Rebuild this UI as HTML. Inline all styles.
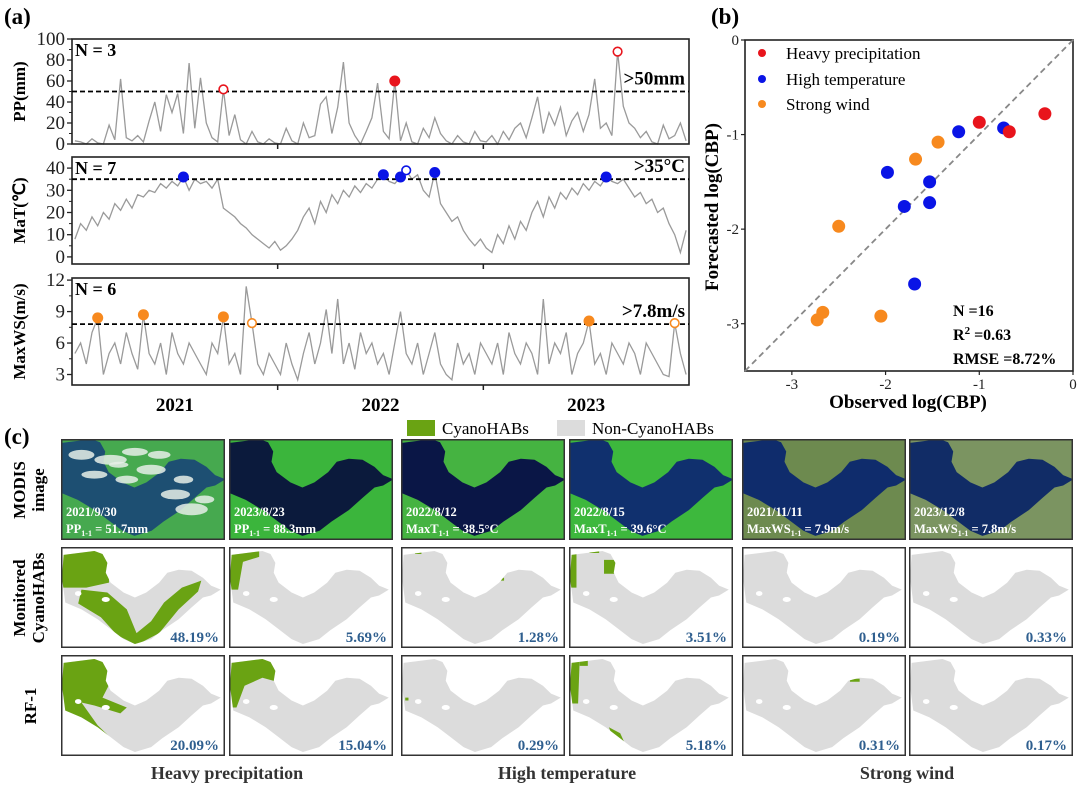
<!DOCTYPE html>
<html><head><meta charset="utf-8"><style>
body{margin:0;background:#fff}
svg{display:block}
text{font-family:"Liberation Serif",serif}
.b{font-weight:bold}
</style></head><body>
<svg id="fig" width="1080" height="792" viewBox="0 0 1080 792" xmlns="http://www.w3.org/2000/svg">
<defs>
<clipPath id="lakeclip" clipPathUnits="userSpaceOnUse"><path d="M1,7 L20,3 L25,6 L28,15 L27,25 L30,35 L38,45 L45,50 L52,45 L60,35 L65,25 L72,22 L80,23 L87,30 L92,38 L98,42 L92,48 L87,50 L80,60 L72,72 L62,83 L55,92 L45,97 L38,92 L30,82 L22,72 L12,62 L2,55 L0,30 Z"/></clipPath>
</defs>
<g id="pa"></g>
<g id="pb"></g>
<g id="pc"></g>
</svg>
<script>
// ---------- Panel (a) data (36 samples per year, 2021-2023) ----------
const years = ["2021","2022","2023"];
const ppValues = [3,2,0,5,1,0,18,4,62,6,3,8,2,22,40,12,47,30,48,10,77,15,63,20,6,2,52,8,28,4,0,12,2,0,5,1,
 0,15,3,0,20,6,8,38,45,10,35,78,20,8,0,12,25,58,12,5,60,3,20,2,0,15,6,25,10,3,0,8,2,0,12,3,
 2,8,0,12,4,15,20,6,25,45,10,30,18,35,8,22,30,12,28,62,15,20,8,88,36,20,15,6,12,2,0,18,5,8,20,3];
const matValues = [8,15,12,18,14,20,17,24,21,26,22,28,27,30,29,33,31,34,32,36,30,35,33,34,31,35,22,20,18,15,13,10,8,6,4,7,
 3,5,8,12,18,22,15,25,20,28,24,30,27,32,29,33,31,35,37,34,33,36,39,35,37,30,27,38,24,20,16,18,12,8,5,8,
 4,2,10,6,14,8,16,12,20,25,18,27,22,29,26,31,28,33,30,34,32,36,34,33,35,31,27,29,24,26,20,22,15,10,2,12];
const wsValues = [5,6,4,7,8.4,3,5,6,4,7,5,3.5,8.7,5,4,6,3,7,5,4,6,5,4,3,6,5,8.5,4,5,3,11.4,7.9,4,3,5,4,
 3,6,4,2.5,5,7,4,6,9.2,5,10.2,4,6,3.5,7,5,6,4,5,3,6,9,5,4,6,3,5,7,4,3,2.5,6,4,5,3,6,
 5,4,6,3,7,5,4,6,5,3,10.2,4,6,5,7,3,5,6,8.1,4,5,3,6,5,4,6,5,3,6,5,4,3,2.8,7.9,5,3];
const ppEventIdx = [26,56,95];   const ppEventOpen = [1,0,1];
const matEventIdx = [19,54,57,58,63,93]; const matEventOpen = [0,0,0,1,0,0];
const wsEventIdx = [4,12,26,31,90,105]; const wsEventOpen = [0,0,0,1,0,1];
const thresholds = [50,35,7.8];
const thresholdLabels = [">50mm",">35\u00b0C",">7.8m/s"];
const nLabels = ["N = 3","N = 7","N = 6"];

// ---------- Panel (b) data ----------
const hpObs = [-1.0,-0.68,-0.3];  const hpFc = [-0.87,-0.97,-0.78];
const htObs = [-1.22,-0.74,-1.98,-1.53,-1.8,-1.53,-1.69]; const htFc = [-0.97,-0.93,-1.4,-1.5,-1.76,-1.72,-2.58];
const swObs = [-1.44,-1.68,-2.5,-2.73,-2.67,-2.05]; const swFc = [-1.08,-1.26,-1.97,-2.96,-2.88,-2.92];
const bTicks = [-3,-2,-1,0];

// ---------- Panel (c) data ----------
const monitoredPct = ["48.19%","5.69%","1.28%","3.51%","0.19%","0.33%"];
const rfPct = ["20.09%","15.04%","0.29%","5.18%","0.31%","0.17%"];
const modisDates = ["2021/9/30","2023/8/23","2022/8/12","2022/8/15","2021/11/11","2023/12/8"];
const modisVar = ["PP","PP","MaxT","MaxT","MaxWS","MaxWS"];
const modisVal = ["= 51.7mm","= 88.3mm","= 38.5\u00b0C","= 39.6\u00b0C","= 7.9m/s","= 7.8m/s"];

const NS="http://www.w3.org/2000/svg";
function el(tag,attrs,parent,txt){const e=document.createElementNS(NS,tag);for(const k in attrs)e.setAttribute(k,attrs[k]);if(txt!==undefined)e.textContent=txt;parent.appendChild(e);return e;}

// ================= Panel A =================
const pa=document.getElementById('pa');
const AX0=72,AX1=689;
const N=ppValues.length;
const xA=i=>AX0+(i+0.5)/N*(AX1-AX0);
const lab=el('text',{x:4,y:24,'font-size':23,class:'b'},pa,'(a)');


const subplots=[
 {vals:ppValues,top:39,bot:144,min:0,max:100,ticks:[0,20,40,60,80,100],yl:"PP(mm)",idx:ppEventIdx,open:ppEventOpen,col:"#e8141c",name:"precipitation"},
 {vals:matValues,top:157,bot:264,min:-3.2,max:45,ticks:[0,10,20,30,40],yl:"MaT(\u2103)",idx:matEventIdx,open:matEventOpen,col:"#0a14e6",name:"temperature"},
 {vals:wsValues,top:278,bot:385,min:2,max:12.2,ticks:[3,6,9,12],yl:"MaxWS(m/s)",idx:wsEventIdx,open:wsEventOpen,col:"#f7891e",name:"wind"}
];
subplots.forEach((s,k)=>{
 const g=el('g',{},pa);
 
 
 const y=v=>s.bot-(v-s.min)/(s.max-s.min)*(s.bot-s.top);
 let d='';s.vals.forEach((v,i)=>{d+=(i?'L':'M')+xA(i).toFixed(1)+','+y(v).toFixed(1);});
 const ln=el('path',{d:d,fill:'none',stroke:'#9a9a9a','stroke-width':1.3},g);
 
 
 const fr=el('rect',{x:AX0,y:s.top,width:AX1-AX0,height:s.bot-s.top,fill:'none',stroke:'#222','stroke-width':1.6},g);
 
 
 const th=el('line',{x1:AX0,x2:AX1,y1:y(thresholds[k]),y2:y(thresholds[k]),stroke:'#000','stroke-width':1.8,'stroke-dasharray':'5,3'},g);
 
 
 s.ticks.forEach(t=>{
  el('line',{x1:AX0-5,x2:AX0,y1:y(t),y2:y(t),stroke:'#222','stroke-width':1.3},g);
  const tl=el('text',{x:AX0-7,y:y(t)+6,'font-size':19,'text-anchor':'end',fill:'#222'},g,String(t));
  
  
 });
 for(let q=0;q<s.ticks.length-1;q++){const m=(s.ticks[q]+s.ticks[q+1])/2;el('line',{x1:AX0-3,x2:AX0,y1:y(m),y2:y(m),stroke:'#222','stroke-width':1},g);}
 for(let yr=1;yr<3;yr++){const xx=AX0+yr/3*(AX1-AX0);el('line',{x1:xx,x2:xx,y1:s.bot,y2:s.bot+5,stroke:'#222','stroke-width':1.5},g);}
 const yt=el('text',{x:0,y:0,'font-size':17,'text-anchor':'middle',class:'b',transform:`translate(25,${(s.top+s.bot)/2}) rotate(-90)`},g,s.yl);
 
 
 const nl=el('text',{x:AX0+3,y:s.top+17,'font-size':18,class:'b'},g,nLabels[k]);
 
 
 const tl=el('text',{x:AX1-4,y:y(thresholds[k])-7,'font-size':19,class:'b','text-anchor':'end'},g,thresholdLabels[k]);
 
 
 s.idx.forEach((ix,j)=>{
  const o=s.open[j];
  const c=el('circle',{cx:xA(ix),cy:y(s.vals[ix]),r:o?4.3:5.5,fill:o?'#fff':s.col,stroke:s.col,'stroke-width':o?1.6:0},g);
  
  
 });
});
years.forEach((yr,i)=>{
 const t=el('text',{x:AX0+(i+0.5)/3*(AX1-AX0),y:411,'font-size':19,'text-anchor':'middle',class:'b'},pa,yr);
 
 
});

// ================= Panel B =================
const pb=document.getElementById('pb');
const BX0=745,BX1=1073,BY0=40,BY1=371;
const xB=v=>BX1+v/3.5*(BX1-BX0);
const yB=v=>BY0-v/3.5*(BY1-BY0);
const lb=el('text',{x:711,y:24,'font-size':23,class:'b'},pb,'(b)');


const fb=el('rect',{x:BX0,y:BY0,width:BX1-BX0,height:BY1-BY0,fill:'none',stroke:'#222','stroke-width':1.6},pb);


const dl=el('line',{x1:xB(-3.5),y1:yB(-3.5),x2:xB(0),y2:yB(0),stroke:'#888','stroke-width':1.8,'stroke-dasharray':'6,4'},pb);


bTicks.forEach(t=>{
 el('line',{x1:xB(t),x2:xB(t),y1:BY1,y2:BY1+4,stroke:'#222','stroke-width':1.2},pb);
 el('line',{x1:BX0-4,x2:BX0,y1:yB(t),y2:yB(t),stroke:'#222','stroke-width':1.2},pb);
 const a=el('text',{x:xB(t),y:BY1+18,'font-size':15,'text-anchor':'middle',fill:'#222'},pb,String(t));
 
 
 const b=el('text',{x:BX0-6,y:yB(t)+5,'font-size':15,'text-anchor':'end',fill:'#222'},pb,String(t));
 
 
});
const xt=el('text',{x:908,y:408,'font-size':19,'text-anchor':'middle',class:'b'},pb,'Observed log(CBP)');


const ytb=el('text',{x:0,y:0,'font-size':19,'text-anchor':'middle',class:'b',transform:'translate(718,207) rotate(-90)'},pb,'Forecasted log(CBP)');


[[swObs,swFc,'#f7891e','strong-wind'],[htObs,htFc,'#0a14e6','high-temperature'],[hpObs,hpFc,'#e8141c','heavy-precipitation']].forEach(([ox,fy,c,nm])=>{
 ox.forEach((v,i)=>{
  const p=el('circle',{cx:xB(v),cy:yB(fy[i]),r:6.5,fill:c},pb);
  
  
 });
});
[['Heavy precipitation','#e8141c',53],['High temperature','#0a14e6',79],['Strong wind','#f7891e',104]].forEach(([t,c,yy])=>{
 const g=el('g',{},pb);
 
 
 el('circle',{cx:762,cy:yy,r:4,fill:c},g);
 el('text',{x:786,y:yy+6,'font-size':17},g,t);
});
const st=el('text',{x:953,y:316,'font-size':16,class:'b'},pb,'N =16');


const r2=el('text',{x:953,y:340,'font-size':16,class:'b'},pb);


r2.innerHTML='R<tspan dy="-6" font-size="11">2</tspan><tspan dy="6"> =0.63</tspan>';
const rm=el('text',{x:953,y:364,'font-size':16,class:'b'},pb,'RMSE =8.72%');



// ================= Panel C =================
const pc=document.getElementById('pc');
const lc=el('text',{x:4,y:444,'font-size':23,class:'b'},pc,'(c)');


const colX=[61,229,401,569,742,909], colW=164;
const rowY=[439,547,655], rowH=101;
const lakeD="M1,7 L20,3 L25,6 L28,15 L27,25 L30,35 L38,45 L45,50 L52,45 L60,35 L65,25 L72,22 L80,23 L87,30 L92,38 L98,42 L92,48 L87,50 L80,60 L72,72 L62,83 L55,92 L45,97 L38,92 L30,82 L22,72 L12,62 L2,55 L0,30 Z";
const modisBg=["#46a94f","#3bb53c","#45b341","#3db83d","#6d8a4f","#7b9461"];
const modisLake=["#1d4f72","#0b1a3c","#0a1646","#10306e","#0f2c6c","#112c66"];
const monGreen=[
 ["M0,0 L29,0 L29,35 L15,40 L0,40 Z","M12,42 L28,45 L40,62 L46,86 L55,74 L63,55 L74,40 L86,33 L84,44 L72,62 L60,86 L46,98 L34,88 L24,70 L10,56 Z"],
 ["M0,0 L18,0 L18,9 L8,14 L5,42 L0,42 Z"],
 ["M8,3 L12,3 L12,6 L8,6 Z","M60,30 L63,30 L63,33 L60,33 Z"],
 ["M0,5 L4,5 L4,40 L0,40 Z","M21,12 L29,12 L29,26 L21,26 Z","M12,2 L18,2 L18,5 L12,5 Z"],
 [],
 []
];
const rfGreen=[
 ["M0,0 L28,0 L30,26 L25,42 L40,52 L36,58 L20,50 L12,47 L22,70 L36,92 L26,92 L12,72 L0,58 Z"],
 ["M0,0 L29,0 L29,26 L20,22 L9,30 L4,52 L0,52 Z"],
 ["M2,42 L4,42 L4,45 L2,45 Z"],
 ["M0,3 L6,3 L5,48 L0,48 Z","M24,72 L31,78 L36,96 L29,92 Z","M6,3 L11,3 L11,10 L6,10 Z"],
 ["M66,23 L72,23 L72,26 L66,26 Z"],
 []
];
const clouds=[[30,20,10,5],[45,12,8,4],[55,30,9,5],[20,35,8,4],[70,55,9,5],[80,70,10,6],[60,15,7,4],[12,15,8,5],[40,40,7,4],[75,40,6,4],[88,60,6,4],[35,25,6,3]];
function cell(x,y,kind,c){
 const g=el('g',{},pc);
 
 
 const sv=el('svg',{x:x+1,y:y+1,width:colW-2,height:rowH-2,viewBox:'0 0 100 100',preserveAspectRatio:'none'},g);
 if(kind==='modis'){
  el('rect',{x:0,y:0,width:100,height:100,fill:modisBg[c]},sv);
  el('path',{d:lakeD,fill:modisLake[c],transform:'translate(-3,-4) scale(1.06,1.04)'},sv);
  if(c===0)clouds.forEach(([cx,cy,rx,ry])=>el('ellipse',{cx:cx,cy:cy,rx:rx,ry:ry,fill:'#e6efe8',opacity:0.85},sv));
 }else{
  el('rect',{x:0,y:0,width:100,height:100,fill:'#fff'},sv);
  el('path',{d:lakeD,fill:'#dcdcdc'},sv);
  const gp=el('g',{'clip-path':'url(#lakeclip)'},sv);
  (kind==='monitored'?monGreen:rfGreen)[c].forEach(d=>el('path',{d:d,fill:'#6aa313'},gp));
  el('ellipse',{cx:10,cy:46,rx:2,ry:2.5,fill:'#fff'},sv);
  el('ellipse',{cx:27,cy:52,rx:2.5,ry:2.5,fill:'#fff'},sv);
 }
 el('rect',{x:x+0.75,y:y+0.75,width:colW-1.5,height:rowH-1.5,fill:'none',stroke:'#333','stroke-width':1.5},g);
 if(kind==='modis'){
  el('text',{x:x+5,y:y+77,'font-size':12.5,class:'b',fill:'#fff'},g,modisDates[c]);
  const t=el('text',{x:x+5,y:y+94,'font-size':12.5,class:'b',fill:'#fff'},g);
  t.innerHTML=modisVar[c]+'<tspan font-size="8" dy="3">1-1</tspan><tspan dy="-3"> '+modisVal[c]+'</tspan>';
 }else{
  const p=el('text',{x:x+colW-6,y:y+rowH-6,'font-size':15,class:'b','text-anchor':'end',fill:'#2f5f8f'},g,(kind==='monitored'?monitoredPct:rfPct)[c]);
  
  
 }
}
colX.forEach((x,c)=>{cell(x,rowY[0],'modis',c);cell(x,rowY[1],'monitored',c);cell(x,rowY[2],'rf',c);});
const lg1=el('g',{},pc);


el('rect',{x:407,y:420,width:28,height:16,fill:'#6aa313'},lg1);
el('text',{x:442,y:434,'font-size':17},lg1,'CyanoHABs');
const lg2=el('g',{},pc);


el('rect',{x:557,y:420,width:28,height:16,fill:'#dcdcdc'},lg2);
el('text',{x:592,y:434,'font-size':17},lg2,'Non-CyanoHABs');
[["MODIS","image",490],["Monitored","CyanoHABs",598],["RF-1",null,706]].forEach(([a,b,cy])=>{
 const t=el('text',{x:0,y:0,'font-size':17,class:'b','text-anchor':'middle',transform:`translate(${b?25:36},${cy}) rotate(-90)`},pc);
 
 
 if(b){t.innerHTML=`<tspan x="0" dy="0">${a}</tspan><tspan x="0" dy="19">${b}</tspan>`;}else t.textContent=a;
});
[["Heavy precipitation",227],["High temperature",567],["Strong wind",907]].forEach(([s,x])=>{
 const t=el('text',{x:x,y:779,'font-size':18,class:'b','text-anchor':'middle',fill:'#333'},pc,s);
 
 
});
</script>
</body></html>
